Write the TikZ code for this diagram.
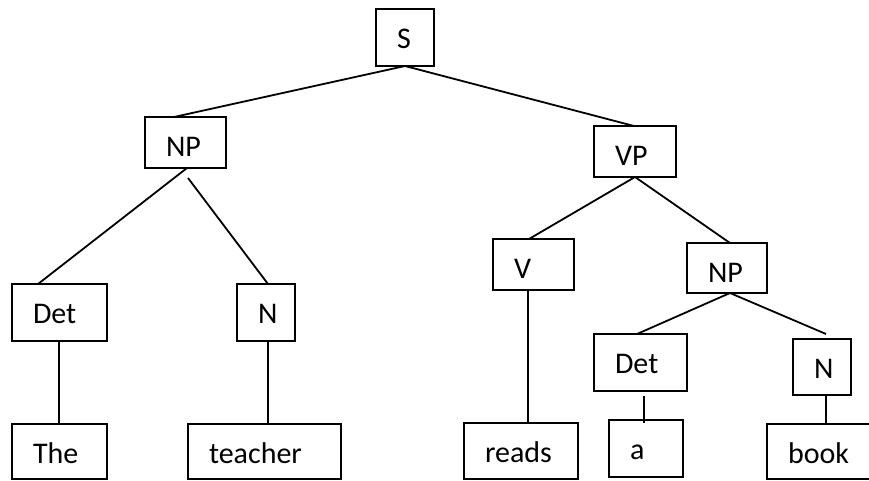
\documentclass[tikz,border=0pt]{standalone}
\usepackage{fontspec}
\setmainfont{Carlito}
\begin{document}
\begin{tikzpicture}[x=1pt,y=-1pt,
  % a word box: #1 = text width (box width minus 42pt), #2 = box height minus 39pt
  tb/.style n args={2}{draw, line width=1.9pt, rectangle, anchor=north west,
    outer sep=0pt, inner xsep=21pt, inner ysep=0pt, text width=#1,
    text height=39pt, text depth=#2, align=left,
    font=\fontsize{30}{34}\selectfont},
  link/.style={line width=1.8pt}]
\useasboundingbox (0,0) rectangle (869,480);

% phrase and category boxes
\node[tb={16pt}{18pt}] (S)    at (376,9)   {S};
\node[tb={39pt}{12pt}] (NP1)  at (145,117) {NP};
\node[tb={40pt}{12pt}] (VP)   at (594,126) {VP};
\node[tb={53pt}{18pt}] (Det1) at (12,284)  {Det};
\node[tb={16pt}{18pt}] (N1)   at (237,284) {N};
\node[tb={39pt}{12pt}] (V)    at (493,239) {V};
\node[tb={38pt}{11pt}] (NP2)  at (687,243) {NP};
\node[tb={51pt}{18pt}] (Det2) at (594,334) {Det};
\node[tb={16pt}{17pt}] (N2)   at (793,339) {N};

% words
\node[tb={53pt}{16pt}]  (wThe)     at (12,424)  {The};
\node[tb={111pt}{16pt}] (wTeacher) at (188,424) {teacher};
\node[tb={72pt}{17pt}]  (wReads)   at (464,423) {reads};
\node[tb={32pt}{18pt}]  (wA)       at (609,420) {a};
\node[tb={68pt}{16pt}]  (wBook)    at (767,424) {book};

% branches
\draw[link] (S.south) -- ([xshift=29pt]NP1.north west);
\draw[link] (S.south) -- ([xshift=40pt]VP.north west);
\draw[link] ([xshift=42pt]NP1.south west) -- ([xshift=26pt]Det1.north west);
\draw[link] ([xshift=43pt,yshift=-10pt]NP1.south west) -- ([xshift=31pt]N1.north west);
\draw[link] ([xshift=41pt]VP.south west) -- ([xshift=36pt]V.north west);
\draw[link] ([xshift=41pt]VP.south west) -- ([xshift=43pt]NP2.north west);
\draw[link] ([xshift=43pt]NP2.south west) -- ([xshift=43pt]Det2.north west);
\draw[link] ([xshift=43pt]NP2.south west) -- ([xshift=33pt,yshift=5pt]N2.north west);

% stems down to the words
\coordinate (det1foot) at ([xshift=47pt]Det1.south west);
\coordinate (n1foot)   at ([xshift=31pt]N1.south west);
\coordinate (vfoot)    at ([xshift=35pt]V.south west);
\coordinate (n2foot)   at ([xshift=33pt]N2.south west);
\draw[link] (det1foot) -- (det1foot |- wThe.north);
\draw[link] (n1foot) -- (n1foot |- wTeacher.north);
\draw[link] (vfoot) -- (vfoot |- wReads.north);
\draw[link] ([xshift=50pt,yshift=-5pt]Det2.south west) -- ([xshift=35pt,yshift=-3pt]wA.north west);
\draw[link] (n2foot) -- (n2foot |- wBook.north);
\end{tikzpicture}
\end{document}
